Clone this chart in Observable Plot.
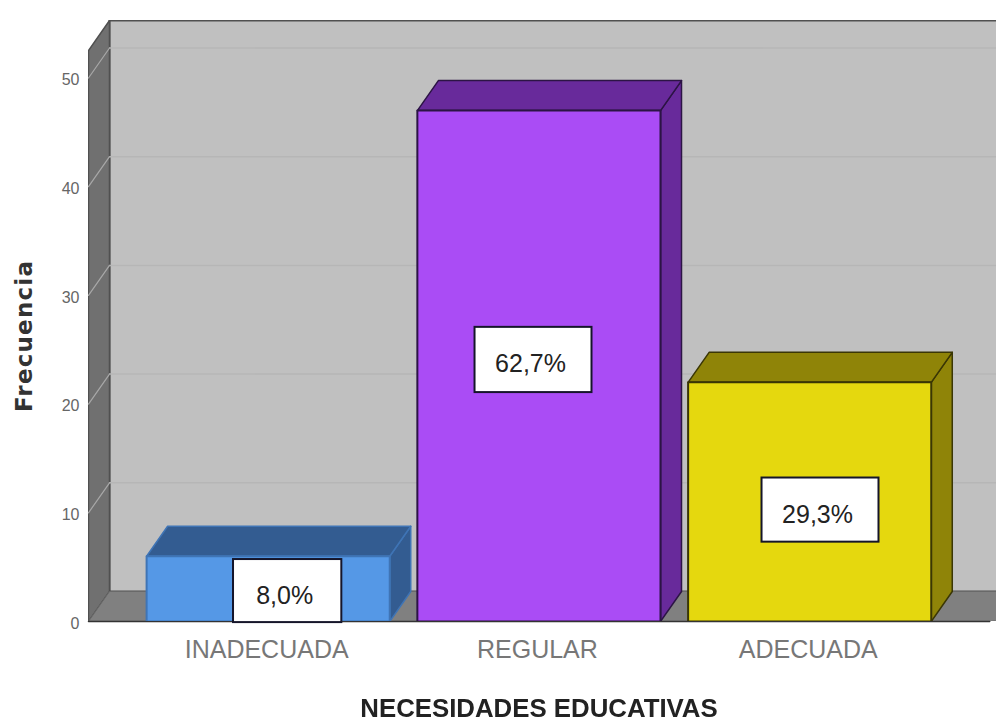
<!DOCTYPE html>
<html lang="es">
<head>
<meta charset="utf-8">
<script src="https://cdn.jsdelivr.net/npm/d3@7"></script>
<script src="https://cdn.jsdelivr.net/npm/@observablehq/plot@0.6"></script>
<style>
html,body{margin:0;padding:0;background:#fff;}
svg{display:block;filter:blur(.7px);}
g[aria-description="y-title"] text{letter-spacing:1.2px;}
</style>
</head>
<body>
<div id="chart"></div>
<script>
const categories = ["INADECUADA", "REGULAR", "ADECUADA"];
const frequencies = [6, 47, 22];
const percentLabels = ["8,0%", "62,7%", "29,3%"];
const yTicks = [0, 10, 20, 30, 40, 50];
const frontColors = ["#5598e6", "#aa4cf5", "#e5d80e"];
const sideColors = ["#335c91", "#682a9b", "#8f8408"];
const edgeColors = ["#3f74b5", "#2c1445", "#3a3605"];
const labelCenterX = [0.072, 0.98, 2.04];
const labelCenterY = [2.8, 24.06, 10.25];
const labelHalfWidth = [0.2, 0.216, 0.216];
const labelHalfHeight = [2.9, 3, 2.95];
const xTitle = "NECESIDADES EDUCATIVAS";
const yTitle = "Frecuencia";

const barHalf = 0.449;
const depthX = 0.0776;
const depthY = 2.76;
const xMin = -0.6636, xMax = 2.69, wallTop = 52.53;

const poly = (pts, fill, stroke, strokeWidth = 1.5) =>
  Plot.line(pts, {x: "0", y: "1", fill, stroke, strokeWidth, curve: "linear-closed", clip: true});

const F = "'Liberation Sans', Arial, sans-serif";
const marks = [
  // back wall, left wall and floor
  poly([[xMin + depthX, depthY], [xMax + 1, depthY], [xMax + 1, wallTop + depthY], [xMin + depthX, wallTop + depthY]], "#c0c0c0", "#505050", 2),
  poly([[xMin, 0], [xMin + depthX, depthY], [xMin + depthX, wallTop + depthY], [xMin, wallTop]], "#707070", "#505050", 1.5),
  poly([[xMin, 0], [xMin + depthX, depthY], [xMax + 1, depthY], [2.665, 0]], "#808080", "#6a6a6a", 1),
  // grid lines on back wall and left wall
  ...yTicks.slice(1).flatMap(t => [
    Plot.line([[xMin + depthX, t + depthY], [xMax, t + depthY]], {x: "0", y: "1", stroke: "#b6b6b6", strokeWidth: 1.5}),
    Plot.line([[xMin, t], [xMin + depthX, t + depthY]], {x: "0", y: "1", stroke: "#a8a8a8", strokeWidth: 1.2})
  ]),
  // floor front edge
  Plot.line([[xMin, 0], [2.665, 0]], {x: "0", y: "1", stroke: "#333", strokeWidth: 1.5}),
  // 3-D bars
  ...categories.flatMap((c, i) => {
    const x1 = i - barHalf, x2 = i + barHalf, v = frequencies[i];
    return [
      poly([[x2, 0], [x2 + depthX, depthY], [x2 + depthX, v + depthY], [x2, v]], sideColors[i], edgeColors[i]),
      poly([[x1, v], [x2, v], [x2 + depthX, v + depthY], [x1 + depthX, v + depthY]], sideColors[i], edgeColors[i]),
      poly([[x1, 0], [x2, 0], [x2, v], [x1, v]], frontColors[i], edgeColors[i], 2)
    ];
  }),
  // percentage labels
  Plot.rect(categories, {
    x1: (d, i) => labelCenterX[i] - labelHalfWidth[i],
    x2: (d, i) => labelCenterX[i] + labelHalfWidth[i],
    y1: (d, i) => labelCenterY[i] - labelHalfHeight[i],
    y2: (d, i) => labelCenterY[i] + labelHalfHeight[i],
    fill: "#fff", stroke: "#15152a", strokeWidth: 2
  }),
  Plot.text(percentLabels, {
    x: (d, i) => labelCenterX[i], y: (d, i) => labelCenterY[i], text: d => d,
    dx: -3, dy: 4.5, fontSize: 25, fontFamily: F, fill: "#222"
  }),
  // axes
  Plot.axisY({
    ticks: yTicks, tickSize: 0, tickPadding: 9, label: null, dy: 2,
    fontSize: 16, fontFamily: F, fill: "#666"
  }),
  Plot.axisX({
    ticks: [0, 1, 2], tickFormat: i => categories[i], tickSize: 0, tickPadding: 19, label: null, dx: -1.5,
    fontSize: 25, fontFamily: F, fill: "#777"
  }),
  // axis titles
  Plot.text([xTitle], {frameAnchor: "bottom", text: d => d, dx: -3.5, dy: 95, fontSize: 25.8, fontWeight: "bold", fontFamily: F, fill: "#222"}),
  Plot.text([yTitle], {ariaDescription: "y-title", frameAnchor: "left", textAnchor: "middle", text: d => d, dx: -63.5, dy: 15, rotate: -90, fontSize: 23, fontWeight: "bold", fontFamily: "'DejaVu Sans', sans-serif", fill: "#333"})
];

const chart = Plot.plot({
  width: 996, height: 720,
  marginLeft: 88, marginRight: 0, marginTop: 20, marginBottom: 99,
  style: {background: "#fff", overflow: "visible"},
  x: {type: "linear", domain: [xMin, xMax], axis: null},
  y: {type: "linear", domain: [0, 55.29], axis: null},
  marks
});
document.getElementById("chart").appendChild(chart);
</script>
</body>
</html>
